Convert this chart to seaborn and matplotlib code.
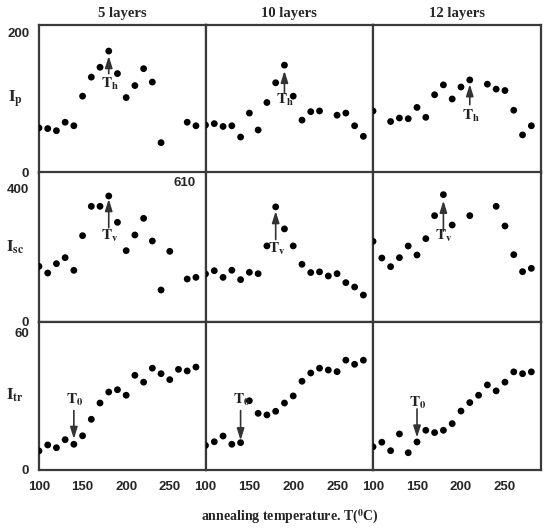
import numpy as np
import matplotlib.pyplot as plt
import seaborn as sns
import pandas as pd

nan = np.nan

# annealing temperatures (C)
temps = [100, 110, 120, 130, 140, 150, 160, 170, 180, 190,
         200, 210, 220, 230, 240, 250, 260, 270, 280]

layers = ['5 layers', '10 layers', '12 layers']

ip_5 = [64, 63, 60, 72, 67, 109, 136, 150, 173, 141, 107, 124, 148, 129, 43, nan, nan, 72, 67]
ip_10 = [68, 70, 66, 67, 51, 85, 61, 100, 128, 153, 109, 75, 87, 88, nan, 82, 85, 67, 52]
ip_12 = [88, nan, 73, 78, 77, 93, 79, 111, 125, 105, 122, 132, nan, 126, 119, 117, 89, 54, 67]

isc_5 = [166, 146, 174, 192, 154, 258, 346, 346, 377, 298, 213, 260, 310, 242, 95, 211, nan, 128, 133]
isc_10 = [208, 222, 193, 224, 183, 215, 209, 330, 500, 404, 330, 250, 214, 217, 199, 209, 170, 151, 116]
isc_12 = [241, 191, 165, 192, 227, 200, 249, 318, 381, 290, nan, 318, nan, nan, 346, 287, 201, 150, 160]

itr_5 = [8.2, 10.8, 9.6, 13.1, 11.1, 14.8, 22, 29.1, 33.9, 34.9, 32.5, 41.2, 38.2, 44.3, 41.9, 39.3, 43.8, 43.1, 44.8]
itr_10 = [10.6, 12.2, 14.7, 11.1, 11.8, 30.1, 24.6, 23.9, 25.5, 29.1, 32.2, 38.6, 42.2, 44.3, 43.5, 42.8, 47.8, 46, 47.8]
itr_12 = [10, 12, 8.3, 15.6, 7.4, 12.1, 17.2, 16.2, 17.2, 20.1, 25.6, 29.3, 32.5, 37, 34.4, 38.2, 42.7, 41.9, 42.7]

rows = [[ip_5, ip_10, ip_12], [isc_5, isc_10, isc_12], [itr_5, itr_10, itr_12]]
row_labels = [r'$\mathbf{I_p}$', r'$\mathbf{I_{sc}}$', r'$\mathbf{I_{tr}}$']

# y limits per panel, ticks on the left ones
ylims = [[210, 210, 210], [449, 652, 449], [64.6, 64.6, 64.6]]
yticks = [[[0, 200], [], []], [[0, 400], [610], []], [[0, 60], [], []]]

# arrows: (row, col, temperature, tail, tip, label, label y)
arrows = [
    (0, 0, 180, 141, 166, r'$\mathbf{T_h}$', 126),
    (0, 1, 190, 113, 145, r'$\mathbf{T_h}$', 103),
    (0, 2, 210, 97, 126, r'$\mathbf{T_h}$', 81),
    (1, 0, 180, 282, 368, r'$\mathbf{T_v}$', 258),
    (1, 1, 180, 358, 482, r'$\mathbf{T_v}$', 318),
    (1, 2, 180, 272, 363, r'$\mathbf{T_v}$', 258),
    (2, 0, 140, 25.8, 13.4, r'$\mathbf{T_0}$', 30.5),
    (2, 1, 140, 25.8, 12.8, r'$\mathbf{T_0}$', 30.5),
    (2, 2, 150, 26.5, 14.0, r'$\mathbf{T_0}$', 29.2),
]

sns.set_style('white')
plt.rcParams['font.family'] = ['Liberation Sans', 'DejaVu Sans']
plt.rcParams['mathtext.fontset'] = 'stix'

fig = plt.figure(figsize=(5.46, 5.29), dpi=100)

lefts = [0.0714, 0.3764, 0.6832]
widths = [0.305, 0.3068, 0.3077]
bottoms = [0.673, 0.3919, 0.1121]
heights = [0.2798, 0.283, 0.2798]

spine_col = '#3a3a3a'
axs = [[None] * 3 for _ in range(3)]
for r in range(3):
    for c in range(3):
        ax = fig.add_axes([lefts[c], bottoms[r], widths[c], heights[r]])
        axs[r][c] = ax
        df = pd.DataFrame({'T': temps, 'I': rows[r][c]}).dropna()
        sns.scatterplot(data=df, x='T', y='I', ax=ax, color='black', s=24,
                        edgecolor='none', zorder=3)
        ax.set_xlim(100, 291)
        ax.set_ylim(0, ylims[r][c])
        ax.set_xlabel('')
        ax.set_ylabel('')
        for sp in ax.spines.values():
            sp.set_color(spine_col)
            sp.set_linewidth(1.6)
        ax.set_yticks(yticks[r][c])
        ax.tick_params(axis='y', direction='out', length=5, width=1.2, color=spine_col,
                       labelsize=9.5, pad=2)
        for lab in ax.get_yticklabels():
            lab.set_fontweight('bold')
        if r == 2:
            ax.set_xticks([100, 150, 200, 250])
            ax.tick_params(axis='x', direction='out', length=5, width=1.2, color=spine_col,
                           labelsize=9.5, pad=3)
            for lab in ax.get_xticklabels():
                lab.set_fontweight('bold')
        else:
            ax.set_xticks([])
        if r == 0:
            ax.set_title(layers[c], fontsize=10.5, fontweight='bold',
                         family='Liberation Serif', pad=6)

for r, c, t, tail, tip, lab, ly in arrows:
    ax = axs[r][c]
    ax.annotate('', xy=(t, tip), xytext=(t, tail),
                arrowprops=dict(arrowstyle='-|>,head_width=0.22,head_length=0.7',
                                color='#333333', lw=1.2, shrinkA=0, shrinkB=0), zorder=4)
    ax.text(t + 1, ly, lab, ha='center', va='center', fontsize=11, color='#222222')

for r in range(3):
    y = bottoms[r] + heights[r] * 0.5
    fig.text(0.028, y, row_labels[r], ha='center', va='center', fontsize=12)

fig.text(0.53, 0.022, r'annealing temperature. T($^\mathbf{0}$C)', ha='center', va='center',
         fontsize=10, fontweight='bold', family='Liberation Serif')

fig.savefig('out.png', dpi=100)
